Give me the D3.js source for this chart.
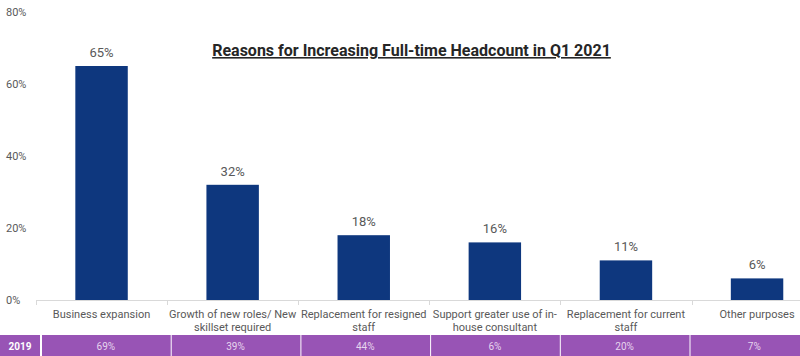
<!DOCTYPE html>
<html><head><meta charset="utf-8">
<script src="https://cdn.jsdelivr.net/npm/d3@7"></script>
<style>body{margin:0;background:#fff}svg{display:block;font-family:Roboto,sans-serif}</style>
</head><body><svg id="c" width="800" height="356"></svg>
<script>
const categories = [
  ["Business expansion"],
  ["Growth of new roles/ New", "skillset required"],
  ["Replacement for resigned", "staff"],
  ["Support greater use of in-", "house consultant"],
  ["Replacement for current", "staff"],
  ["Other purposes"]
];
const values2021 = [65, 32, 18, 16, 11, 6];
const values2019 = [69, 39, 44, 6, 20, 7];
const yTicks = [0, 20, 40, 60, 80];
const rowLabel = "2019";
const title = "Reasons for Increasing Full-time Headcount in Q1 2021";

const svg = d3.select("#c");
const xb = d3.scaleBand().domain(d3.range(categories.length)).range([36, 36 + 6 * 131.1]);
const y = d3.scaleLinear().domain([0, 80]).range([300, 12]);

// y tick labels
svg.append("g").selectAll("text").data(yTicks).join("text")
  .attr("x", 6).attr("y", d => y(d)).attr("dy", "0.35em")
  .attr("font-size", 11).attr("fill", "#595959").text(d => d + "%");

// bars
svg.append("g").selectAll("rect").data(values2021).join("rect")
  .attr("x", (d, i) => xb(i) + xb.bandwidth() * 0.3).attr("width", xb.bandwidth() * 0.4)
  .attr("y", d => y(d)).attr("height", d => y(0) - y(d)).attr("fill", "#0e377e");

svg.append("g").selectAll("text").data(values2021).join("text")
  .attr("x", (d, i) => xb(i) + xb.bandwidth() / 2).attr("y", d => y(d) - 9)
  .attr("text-anchor", "middle").attr("font-size", 13).attr("fill", "#595959").text(d => d + "%");

// x axis
const ax = svg.append("g");
ax.append("line").attr("x1", 36).attr("x2", 800).attr("y1", 300.5).attr("y2", 300.5).attr("stroke", "#d9d9d9");
ax.selectAll("line.t").data(d3.range(categories.length + 1)).join("line").attr("class", "t")
  .attr("x1", i => Math.round(36 + i * xb.step()) + 0.5).attr("x2", i => Math.round(36 + i * xb.step()) + 0.5)
  .attr("y1", 300).attr("y2", 305).attr("stroke", "#d9d9d9");
ax.selectAll("text").data(categories).join("text")
  .attr("text-anchor", "middle").attr("font-size", 11).attr("fill", "#595959")
  .attr("x", (d, i) => xb(i) + xb.bandwidth() / 2)
  .each(function (d, i) {
    const t = d3.select(this);
    d.forEach((line, k) => t.append("tspan").attr("x", xb(i) + xb.bandwidth() / 2).attr("y", 318 + k * 13).text(line));
  });

// title
svg.append("text").attr("x", 411.5).attr("y", 56).attr("text-anchor", "middle")
  .attr("font-size", 16).attr("font-weight", "bold").attr("fill", "#262626")
  .attr("text-decoration", "underline").text(title);

// table row
const tb = d3.scaleBand().domain(d3.range(categories.length)).range([41, 41 + 6 * 129.7]);
const tg = svg.append("g");
tg.append("rect").attr("x", 0).attr("y", 335).attr("width", 40).attr("height", 21).attr("fill", "#9854b5");
tg.append("text").attr("x", 20).attr("y", 346).attr("dy", "0.35em").attr("text-anchor", "middle")
  .attr("font-size", 10).attr("font-weight", "bold").attr("fill", "#ffffff").text(rowLabel);
tg.selectAll("rect.c").data(values2019).join("rect").attr("class", "c")
  .attr("x", (d, i) => tb(i) + 1).attr("width", tb.bandwidth() - 1).attr("y", 335).attr("height", 21).attr("fill", "#9854b5");
tg.selectAll("text.c").data(values2019).join("text").attr("class", "c")
  .attr("x", (d, i) => tb(i) + tb.bandwidth() / 2).attr("y", 346).attr("dy", "0.35em").attr("text-anchor", "middle")
  .attr("font-size", 10).attr("fill", "#e6d5ee").text(d => d + "%");
</script></body></html>
